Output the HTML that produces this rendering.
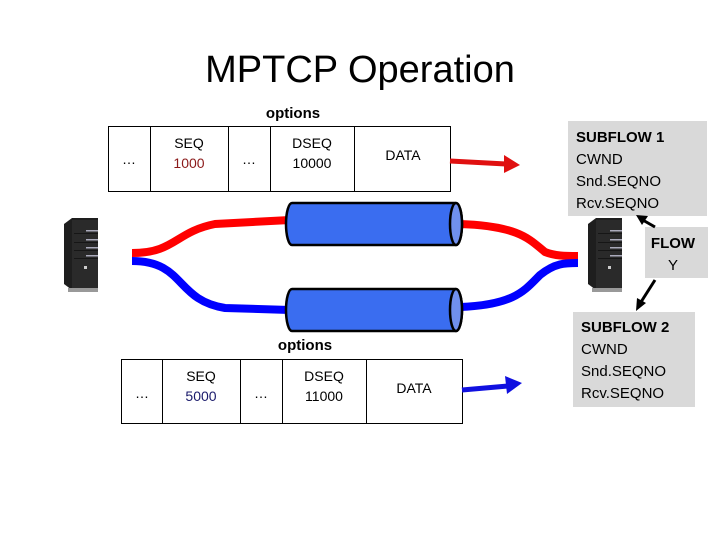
<!DOCTYPE html>
<html><head><style>
body{margin:0;background:#fff;}
svg text{font-family:"Liberation Sans",sans-serif;}
</style></head><body>
<svg width="720" height="540" xmlns="http://www.w3.org/2000/svg">
<defs>
<g id="srv">
<path d="M0,6 L8,0 L34,0 L34,70 L8,72 L0,66 Z" fill="#1e1e1e"/>
<rect x="8" y="2" width="26" height="68" fill="#2a2a2a"/>
<rect x="22" y="12" width="12" height="1.5" fill="#aab"/>
<rect x="22" y="21" width="12" height="1.5" fill="#aab"/>
<rect x="22" y="29" width="12" height="1.5" fill="#aab"/>
<rect x="22" y="37" width="12" height="1.5" fill="#aab"/>
<rect x="10" y="15" width="24" height="0.8" fill="#111"/>
<rect x="10" y="24" width="24" height="0.8" fill="#111"/>
<rect x="10" y="32" width="24" height="0.8" fill="#111"/>
<rect x="10" y="40" width="24" height="0.8" fill="#111"/>
<rect x="20" y="48" width="3" height="3" fill="#ccc"/>
<rect x="4" y="70" width="30" height="4" fill="#999"/>
</g>
</defs>
<text x="360" y="82" font-size="38" text-anchor="middle" fill="#000">MPTCP Operation</text>

<!-- table 1 -->
<text x="293" y="118" font-size="15" text-anchor="middle" font-weight="bold">options</text>
<rect x="108.5" y="126.5" width="342" height="65" fill="none" stroke="#000"/>
<g stroke="#000"><line x1="150.5" y1="126" x2="150.5" y2="192"/><line x1="228.5" y1="126" x2="228.5" y2="192"/><line x1="270.5" y1="126" x2="270.5" y2="192"/><line x1="354.5" y1="126" x2="354.5" y2="192"/></g>
<g font-size="14" text-anchor="middle">
<text x="129" y="164">…</text>
<text x="189" y="148">SEQ</text><text x="189" y="168" fill="#8b1a1a">1000</text>
<text x="249" y="164">…</text>
<text x="312" y="148">DSEQ</text><text x="312" y="168">10000</text>
<text x="403" y="160">DATA</text>
</g>
<line x1="450" y1="161" x2="506" y2="164" stroke="#e01010" stroke-width="5"/>
<path d="M504,155 L520,165 L504,173 Z" fill="#e01010"/>

<!-- table 2 -->
<text x="305" y="350" font-size="15" text-anchor="middle" font-weight="bold">options</text>
<rect x="121.5" y="359.5" width="341" height="64" fill="none" stroke="#000"/>
<g stroke="#000"><line x1="162.5" y1="359" x2="162.5" y2="424"/><line x1="240.5" y1="359" x2="240.5" y2="424"/><line x1="282.5" y1="359" x2="282.5" y2="424"/><line x1="366.5" y1="359" x2="366.5" y2="424"/></g>
<g font-size="14" text-anchor="middle">
<text x="142" y="398">…</text>
<text x="201" y="381">SEQ</text><text x="201" y="401" fill="#1a1a6b">5000</text>
<text x="261" y="398">…</text>
<text x="324" y="381">DSEQ</text><text x="324" y="401">11000</text>
<text x="414" y="393">DATA</text>
</g>
<line x1="462" y1="390" x2="508" y2="386" stroke="#1010e0" stroke-width="5"/>
<path d="M505,376 L522,383 L507,394 Z" fill="#1010e0"/>

<!-- pipes -->
<path d="M132,253 C175,253 175,232 215,224 L290,220" fill="none" stroke="#f00" stroke-width="8"/>
<path d="M132,261 C185,261 175,300 225,308 L290,310" fill="none" stroke="#00f" stroke-width="8"/>
<path d="M460,224 C520,226 530,240 545,252 C555,256 565,256 578,256" fill="none" stroke="#f00" stroke-width="8"/>
<path d="M460,307 C515,305 525,290 540,275 C555,263 565,263 578,263" fill="none" stroke="#00f" stroke-width="8"/>

<g stroke="#000" stroke-width="2.5">
<path d="M292,203 L456,203 A6,21 0 0 1 456,245 L292,245 A6,21 0 0 1 292,203 Z" fill="#3a6df0"/>
<ellipse cx="456" cy="224" rx="6" ry="21" fill="#7090ee"/>
<path d="M292,289 L456,289 A6,21 0 0 1 456,331 L292,331 A6,21 0 0 1 292,289 Z" fill="#3a6df0"/>
<ellipse cx="456" cy="310" rx="6" ry="21" fill="#7090ee"/>
</g>

<use href="#srv" x="64" y="218"/>
<use href="#srv" x="588" y="218"/>

<!-- boxes -->
<rect x="568" y="121" width="139" height="95" fill="#d9d9d9"/>
<g font-size="15">
<text x="576" y="142" font-weight="bold">SUBFLOW 1</text>
<text x="576" y="164">CWND</text>
<text x="576" y="186">Snd.SEQNO</text>
<text x="576" y="208">Rcv.SEQNO</text>
</g>
<rect x="645" y="227" width="63" height="51" fill="#d9d9d9"/>
<text x="673" y="248" font-size="15" font-weight="bold" text-anchor="middle">FLOW</text>
<text x="673" y="270" font-size="15" text-anchor="middle">Y</text>
<rect x="573" y="312" width="122" height="95" fill="#d9d9d9"/>
<g font-size="15">
<text x="581" y="332" font-weight="bold">SUBFLOW 2</text>
<text x="581" y="354">CWND</text>
<text x="581" y="376">Snd.SEQNO</text>
<text x="581" y="398">Rcv.SEQNO</text>
</g>
<line x1="655" y1="227" x2="641" y2="219" stroke="#000" stroke-width="3"/>
<path d="M636,215 L648,216 L642,225 Z" fill="#000"/>
<line x1="655" y1="280" x2="641" y2="302" stroke="#000" stroke-width="3"/>
<path d="M636,311 L637,298 L646,303 Z" fill="#000"/>
</svg>
</body></html>
